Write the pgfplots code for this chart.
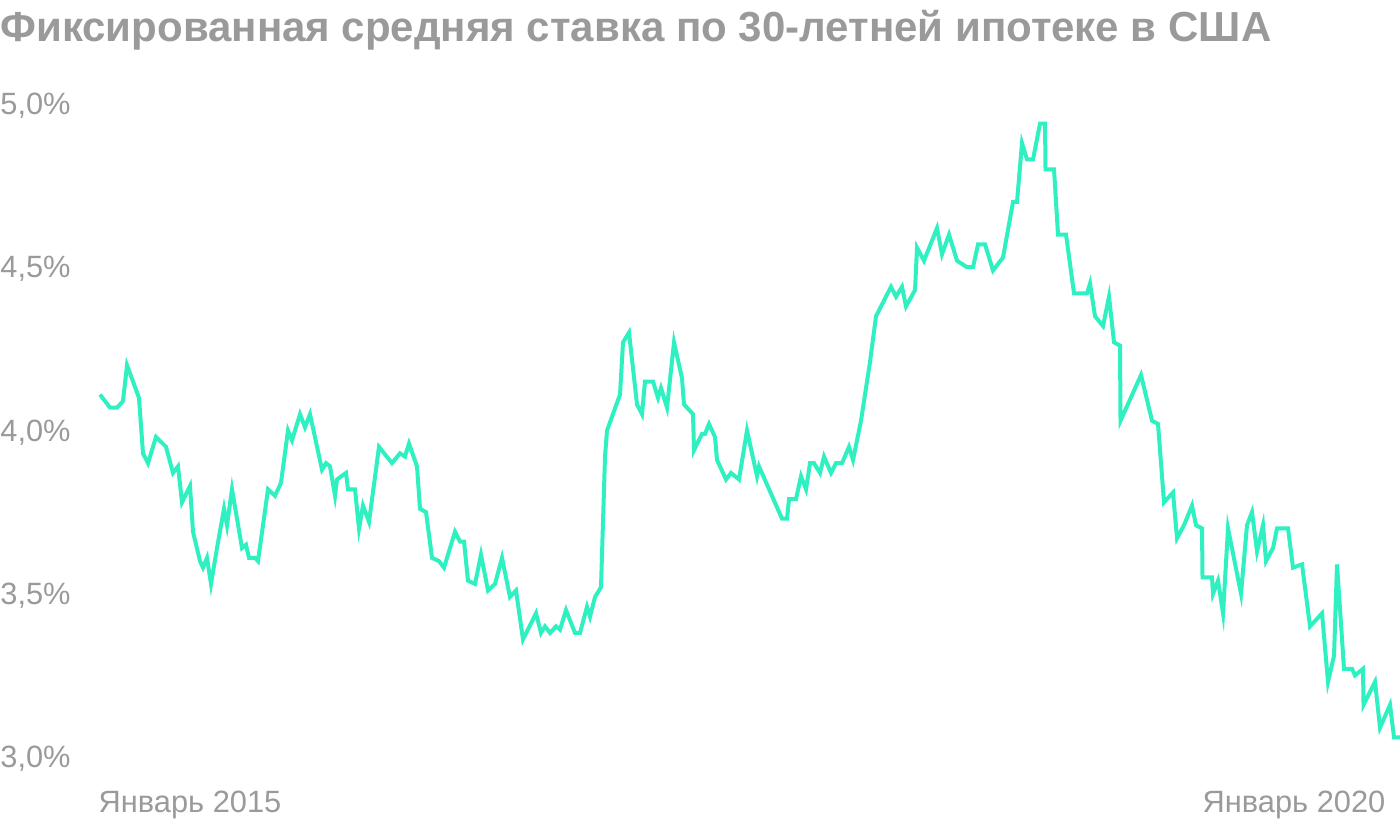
\documentclass[border=0pt]{standalone}
\usepackage{pgfplots}
\pgfplotsset{compat=1.18}
\usepackage{fontspec}
\setmainfont{Liberation Sans}
\definecolor{mint}{HTML}{2EF0C0}
\definecolor{txtgray}{HTML}{9A9A9A}

% 30-year fixed mortgage rate, weekly; x = position along the time axis
\pgfplotstableread{
x rate
0 4.11
10 4.07
17 4.07
23 4.09
27 4.20
33 4.15
39 4.10
43 3.93
48 3.90
56 3.98
66 3.95
73 3.87
78 3.89
82 3.78
90 3.83
93 3.69
100 3.60
103 3.58
107 3.61
111 3.53
117 3.64
124 3.76
127 3.71
132 3.82
142 3.64
146 3.65
149 3.61
155 3.61
158 3.60
168 3.82
175 3.80
181 3.84
188 4.00
192 3.97
200 4.05
205 4.01
210 4.05
222 3.88
226 3.90
230 3.89
235 3.80
237 3.85
246 3.87
248 3.82
255 3.82
259 3.70
263 3.77
269 3.72
279 3.95
292 3.90
300 3.93
305 3.92
309 3.96
317 3.89
320 3.76
326 3.75
332 3.61
339 3.60
344 3.58
355 3.69
360 3.66
364 3.66
368 3.54
375 3.53
381 3.62
388 3.51
395 3.53
402 3.61
410 3.49
416 3.51
423 3.36
436 3.44
441 3.38
445 3.40
450 3.38
456 3.40
460 3.39
466 3.45
475 3.38
480 3.38
487 3.46
490 3.43
495 3.49
501 3.52
505 3.92
507 4.00
520 4.11
523 4.27
529 4.30
537 4.08
542 4.05
545 4.15
553 4.15
558 4.10
561 4.13
567 4.07
574 4.27
582 4.16
584 4.08
593 4.05
594 3.94
602 3.99
605 3.99
609 4.02
615 3.98
617 3.91
626 3.85
631 3.87
639 3.85
647 4.00
657 3.86
659 3.89
682 3.73
687 3.73
689 3.79
696 3.79
701 3.86
706 3.82
710 3.90
714 3.90
720 3.87
724 3.92
731 3.87
736 3.90
742 3.90
749 3.95
753 3.91
761 4.03
770 4.21
776 4.35
791 4.44
796 4.41
802 4.44
806 4.38
815 4.43
817 4.56
824 4.52
837 4.62
842 4.54
849 4.60
857 4.52
867 4.50
873 4.50
878 4.57
885 4.57
893 4.49
903 4.53
913 4.70
917 4.70
922 4.88
927 4.83
933 4.83
940 4.94
945 4.94
945.5 4.80
954 4.80
958 4.60
966 4.60
974 4.42
987 4.42
990 4.45
995 4.35
1003 4.32
1009 4.41
1014 4.27
1020 4.26
1020.5 4.03
1041 4.17
1052 4.03
1058 4.02
1064 3.78
1073 3.81
1077 3.67
1084 3.71
1092 3.77
1096 3.71
1102 3.70
1102.5 3.55
1112 3.55
1113 3.50
1118 3.54
1123 3.44
1128 3.70
1141 3.50
1147 3.71
1152 3.75
1157 3.63
1163 3.71
1166 3.60
1173 3.64
1177 3.70
1188 3.70
1193 3.58
1202 3.59
1210 3.40
1222 3.44
1228 3.23
1234 3.31
1237 3.59
1244 3.27
1252 3.27
1255 3.25
1263 3.27
1263.5 3.16
1275 3.23
1280 3.09
1290 3.16
1294 3.06
1300 3.06
}\ratetable

\begin{document}
\begin{tikzpicture}
\useasboundingbox (0,0) rectangle (700pt,412pt);
\node[anchor=north west, inner sep=0pt, text=txtgray, font=\fontsize{21}{25}\selectfont\bfseries]
  at (0pt,407pt) {Фиксированная средняя ставка по 30-летней ипотеке в США};
\begin{axis}[
  at={(50pt,33.5pt)}, anchor=south west,
  scale only axis,
  width=650pt, height=326.5pt,
  xmin=0, xmax=1300,
  ymin=3, ymax=5,
  clip=false,
  axis line style={draw=none},
  tick style={draw=none},
  ytick={3,3.5,4,4.5,5},
  yticklabels={{3,0\%},{3,5\%},{4,0\%},{4,5\%},{5,0\%}},
  yticklabel style={anchor=west, inner sep=0pt, xshift=-50pt, yshift=-1pt, text=txtgray,
    font=\fontsize{15.4}{18}\selectfont},
  xtick={90,1194},
  xticklabels={Январь 2015, Январь 2020},
  xticklabel style={anchor=north, inner sep=0pt, yshift=-17pt, text=txtgray,
    font=\fontsize{15.4}{18}\selectfont},
]
\addplot[mint, line width=2pt, line join=miter, mark=none] table[x=x, y=rate] {\ratetable};
\end{axis}
\end{tikzpicture}
\end{document}
